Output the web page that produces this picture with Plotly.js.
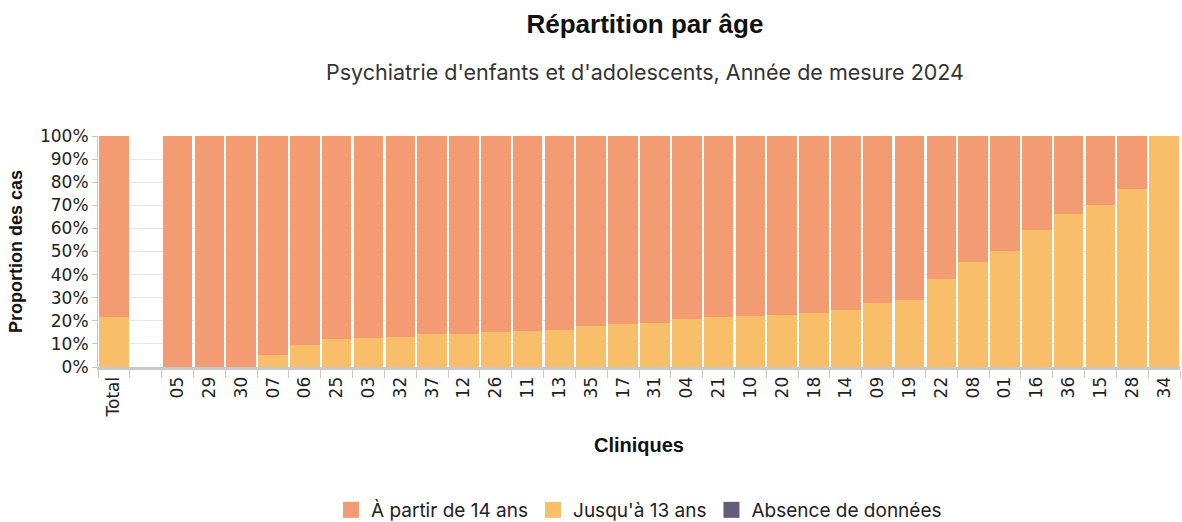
<!DOCTYPE html>
<html>
<head>
<meta charset="utf-8">
<script src="https://cdn.plot.ly/plotly-3.0.1.min.js"></script>
<style>
  html, body { margin: 0; padding: 0; background: #fff; }
  #chart { width: 1182px; height: 522px; }
</style>
</head>
<body>
<div id="chart"></div>
<script>
// cliniques, triées par part des moins de 14 ans (" " = colonne vide après le total)
const cliniques = ['Total', ' ', '05', '29', '30', '07', '06', '25', '03', '32', '37', '12', '26', '11',
  '13', '35', '17', '31', '04', '21', '10', '20', '18', '14', '09', '19', '22', '08', '01', '16',
  '36', '15', '28', '34'];

// part des cas jusqu'à 13 ans (%)
const jusqua13 = [21.8, null, 0, 0, 0, 5.2, 9.6, 12.1, 12.5, 13.2, 14.1, 14.4, 15.0, 15.4,
  16.0, 17.6, 18.6, 19.0, 20.9, 21.5, 22.1, 22.4, 23.5, 24.7, 27.5, 28.9, 37.9, 45.3, 50.1, 59.4,
  66.4, 70.3, 76.9, 100];

// part des cas à partir de 14 ans (%)
const partir14 = jusqua13.map(v => v === null ? null : Math.round((100 - v) * 10) / 10);

// absence de données (%)
const absence = cliniques.map((c, i) => i === 1 ? null : 0);

const yTicks = [0, 10, 20, 30, 40, 50, 60, 70, 80, 90, 100];
const yTickText = yTicks.map(v => v + '%');

const series = [
  { name: 'À partir de 14 ans', color: '#F39C73' },
  { name: "Jusqu'à 13 ans", color: '#F9BE69' },
  { name: 'Absence de données', color: '#655B7C' }
];

const tickFont = { family: 'DejaVu Sans, sans-serif', size: 17, color: '#222' };
const boldFont = 'Liberation Sans, Arial, sans-serif';

const traces = [
  {
    type: 'bar', name: series[1].name, x: cliniques, y: jusqua13,
    marker: { color: series[1].color }, showlegend: false,
    hovertemplate: '%{x}: %{y:.1f}%<extra></extra>'
  },
  {
    type: 'bar', name: series[0].name, x: cliniques, y: partir14,
    marker: { color: series[0].color }, showlegend: false,
    hovertemplate: '%{x}: %{y:.1f}%<extra></extra>'
  },
  {
    type: 'bar', name: series[2].name, x: cliniques, y: absence,
    marker: { color: series[2].color }, showlegend: false,
    hovertemplate: '%{x}: %{y:.1f}%<extra></extra>'
  }
];

// entrées de légende (carrés plus grands que le symbole par défaut)
series.forEach(s => {
  traces.push({
    type: 'scatter', mode: 'markers', name: s.name, x: [null], y: [null],
    marker: { symbol: 'square', size: 16, color: s.color }, hoverinfo: 'skip'
  });
});

const layout = {
  width: 1182,
  height: 522,
  barmode: 'stack',
  bargap: 0.07,
  paper_bgcolor: '#fff',
  plot_bgcolor: '#fff',
  margin: { l: 98, r: 2, t: 136, b: 155 },
  title: {
    text: '<b>Répartition par âge</b>',
    font: { family: boldFont, size: 26, color: '#111' },
    x: 0.5055, xref: 'paper', y: 0.955, yanchor: 'middle'
  },
  annotations: [{
    text: "Psychiatrie d'enfants et d'adolescents, Année de mesure 2024",
    xref: 'paper', yref: 'paper', x: 0.5, xshift: 6, y: 1.0, yshift: 64,
    xanchor: 'center', yanchor: 'middle', showarrow: false,
    font: { family: 'Inter, sans-serif', size: 21.5, color: '#333' }
  }],
  xaxis: {
    type: 'category',
    automargin: false,
    tickangle: -90,
    tickfont: tickFont,
    ticks: 'outside',
    tickson: 'boundaries',
    ticklen: 8,
    tickcolor: '#c8c8c8',
    showline: true,
    linecolor: '#c8c8c8',
    linewidth: 3,
    showgrid: false,
    fixedrange: true,
    title: {
      text: '<b>Cliniques</b>',
      font: { family: boldFont, size: 20, color: '#111' },
      standoff: 22
    }
  },
  yaxis: {
    range: [0, 100],
    automargin: false,
    tickmode: 'array',
    tickvals: yTicks,
    ticktext: yTickText,
    tickfont: tickFont,
    ticks: 'outside',
    ticklen: 5,
    tickcolor: '#c8c8c8',
    showline: true,
    linecolor: '#c8c8c8',
    linewidth: 1,
    gridcolor: '#e6e6e6',
    zeroline: false,
    fixedrange: true,
    title: {
      text: '<b>Proportion des cas</b>',
      font: { family: boldFont, size: 18, color: '#111' },
      standoff: 12
    }
  },
  legend: {
    orientation: 'h',
    x: 0.5, xanchor: 'center',
    yref: 'container',
    y: 0.023, yanchor: 'middle',
    font: { family: 'Inter, sans-serif', size: 19, color: '#222' },
    itemwidth: 30,
    traceorder: 'normal'
  },
  showlegend: true
};

Plotly.newPlot('chart', traces, layout, { displayModeBar: false, responsive: false });
</script>
</body>
</html>
